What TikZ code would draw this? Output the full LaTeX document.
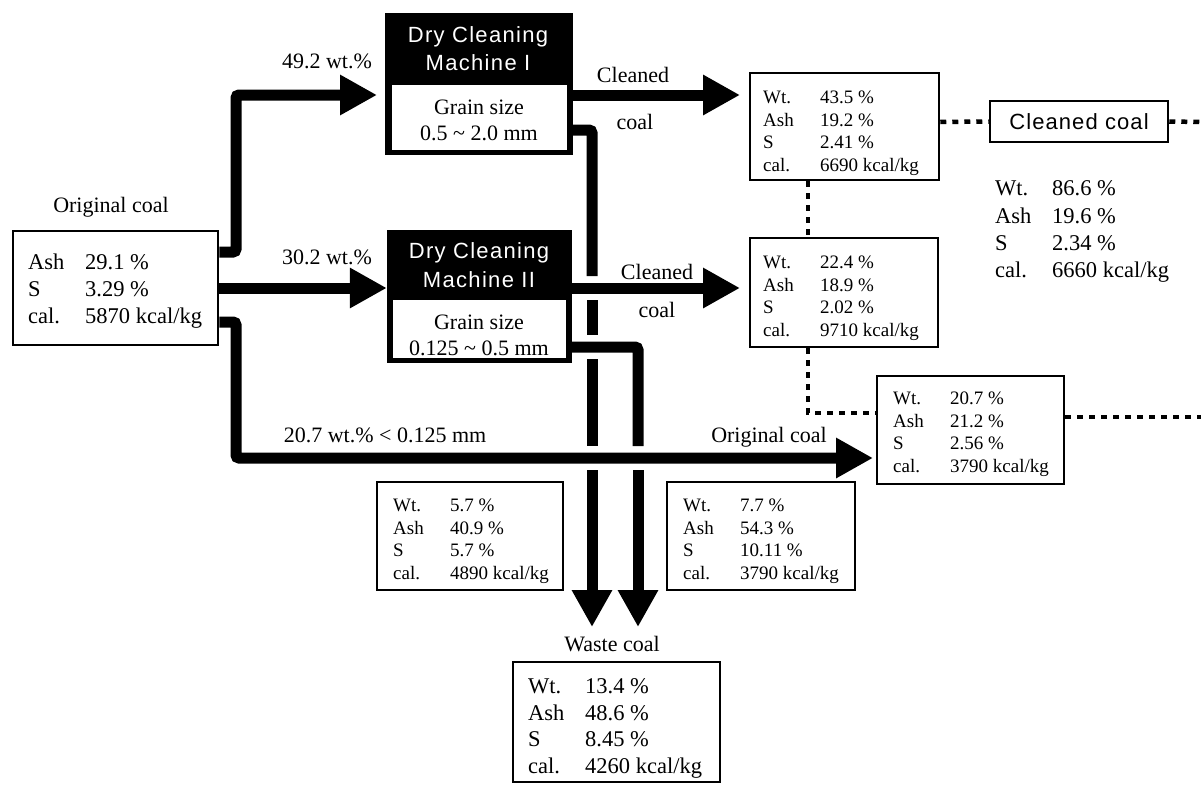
\documentclass[tikz,border=0pt]{standalone}
\usepackage{fontspec}
\setmainfont{Liberation Serif}
\newfontfamily\hsans[LetterSpace=6]{Liberation Sans}
\newfontfamily\csans[LetterSpace=5]{Liberation Sans}
\usetikzlibrary{arrows.meta}
\newcommand{\smallrows}[1]{{\fontsize{19}{22.7}\selectfont\begin{tabular}{@{}p{57pt}@{}l@{}}#1\end{tabular}}}
\newcommand{\largerows}[2]{{\fontsize{22.5}{#1}\selectfont\begin{tabular}{@{}p{57pt}@{}l@{}}#2\end{tabular}}}
\begin{document}
\begin{tikzpicture}[x=1pt,y=-1pt,
  flow/.style={line width=11pt, rounded corners=3pt},
  flowarrow/.style={flow, -{Triangle[length=37pt,width=38pt]}},
  dotline/.style={line width=4.5pt, dash pattern=on 6pt off 6pt},
  databox/.style={draw, line width=2.5pt, inner sep=0pt},
  machine/.style={fill=black, inner sep=0pt},
  grainbox/.style={fill=white, inner sep=0pt},
  rows/.style={inner sep=0pt, anchor=north west},
  lbl/.style={inner sep=0pt, font=\fontsize{22}{26}\selectfont},
  mtitle/.style={inner sep=0pt, text=white, font=\hsans\fontsize{22}{26}\selectfont}]
\useasboundingbox (0,0) rectangle (1201,784);

% ---------- Original coal ----------
\node[lbl] (origlbl) at (111,207) {Original coal};
\node[databox, minimum width=205pt, minimum height=114pt] (ob) at (115.5,288) {};
\node[rows] (obt) at (28,250.5) {\largerows{27}{Ash & 29.1 \% \\ S & 3.29 \% \\ cal. & 5870 kcal/kg}};

% ---------- Machine I ----------
\node[machine, minimum width=188pt, minimum height=142pt] (m1) at (479,84) {};
\node[grainbox, minimum width=175pt, minimum height=65pt] (m1g) at (479.5,117.5) {};
\node[mtitle] (m1a) at (478,37) {Dry Cleaning};
\node[mtitle] (m1b) at (478,63) {Machine I};
\node[lbl] (m1c) at (479,107) {Grain size};
\node[lbl] (m1d) at (479,133) {0.5 \char`\~\ 2.0 mm};

% ---------- Machine II ----------
\node[machine, minimum width=185pt, minimum height=133pt] (m2) at (479.5,296.5) {};
\node[grainbox, minimum width=173pt, minimum height=58pt] (m2g) at (479.5,329) {};
\node[mtitle] (m2a) at (479,253) {Dry Cleaning};
\node[mtitle] (m2b) at (479,280) {Machine II};
\node[lbl] (m2c) at (479,322) {Grain size};
\node[lbl] (m2d) at (479,348) {0.125 \char`\~\ 0.5 mm};

% ---------- product boxes ----------
\node[databox, minimum width=189pt, minimum height=107pt] (b1) at (844.5,126.5) {};
\node[rows] (b1t) at (763,87.4) {\smallrows{Wt. & 43.5 \% \\ Ash & 19.2 \% \\ S & 2.41 \% \\ cal. & 6690 kcal/kg}};
\node[databox, minimum width=188pt, minimum height=109pt] (b2) at (844,292.5) {};
\node[rows] (b2t) at (763,252.4) {\smallrows{Wt. & 22.4 \% \\ Ash & 18.9 \% \\ S & 2.02 \% \\ cal. & 9710 kcal/kg}};
\node[databox, minimum width=187pt, minimum height=108pt] (b3) at (970.5,430) {};
\node[rows] (b3t) at (893,388.4) {\smallrows{Wt. & 20.7 \% \\ Ash & 21.2 \% \\ S & 2.56 \% \\ cal. & 3790 kcal/kg}};
\node[databox, minimum width=186pt, minimum height=108pt] (wa) at (470,536) {};
\node[rows] (wat) at (393,495.4) {\smallrows{Wt. & 5.7 \% \\ Ash & 40.9 \% \\ S & 5.7 \% \\ cal. & 4890 kcal/kg}};
\node[databox, minimum width=188pt, minimum height=108pt] (wb) at (761,536) {};
\node[rows] (wbt) at (683,495.4) {\smallrows{Wt. & 7.7 \% \\ Ash & 54.3 \% \\ S & 10.11 \% \\ cal. & 3790 kcal/kg}};

% ---------- waste coal ----------
\node[lbl] (wlbl) at (612,644) {Waste coal};
\node[databox, minimum width=207pt, minimum height=120pt] (wbox) at (616.5,722) {};
\node[rows] (wboxt) at (528,674.5) {\largerows{26.7}{Wt. & 13.4 \% \\ Ash & 48.6 \% \\ S & 8.45 \% \\ cal. & 4260 kcal/kg}};

% ---------- cleaned coal ----------
\node[databox, minimum width=178pt, minimum height=41pt, font=\csans\fontsize{22}{26}\selectfont] (cc) at (1079,121.5) {Cleaned coal};
\node[rows] (cct) at (995,176.5) {\largerows{27.3}{Wt. & 86.6 \% \\ Ash & 19.6 \% \\ S & 2.34 \% \\ cal. & 6660 kcal/kg}};

% ---------- flow labels ----------
\node[lbl] (f1) at (327,61) {49.2 wt.\%};
\node[lbl] (f2) at (327,257) {30.2 wt.\%};
\node[lbl] (f3) at (385,435) {20.7 wt.\% < 0.125 mm};
\node[lbl] (f4) at (633,75) {Cleaned};
\node[lbl] (f5) at (635,122) {coal};
\node[lbl] (f6) at (657,272) {Cleaned};
\node[lbl] (f7) at (657,310) {coal};
\node[lbl] (f8) at (769,437) {Original coal};

% ---------- coordinates ----------
\coordinate (k1) at (236,252);
\coordinate (k2) at (236,95);
\coordinate (m1in) at (377,95);
\coordinate (k3) at (236,322);
\coordinate (k4) at (236,458);
\coordinate (b3in) at (873,458);
\coordinate (b1in) at (740,95);
\coordinate (b2in) at (740,288);
\coordinate (j1) at (592,130);
\coordinate (g1a) at (592,276); \coordinate (g1b) at (592,300);
\coordinate (g2a) at (592,335); \coordinate (g2b) at (592,359);
\coordinate (g3a) at (592,446); \coordinate (g3b) at (592,470);
\coordinate (t1) at (592,627);
\coordinate (j2) at (638,347);
\coordinate (h3a) at (638,446); \coordinate (h3b) at (638,470);
\coordinate (t2) at (638,627);
\coordinate (d1) at (808,413);
\coordinate (edge1) at (1201,122);
\coordinate (edge2) at (1201,417);

% ---------- flows ----------
\draw[flowarrow] ([yshift=36pt]ob.east) -- (k1) -- (k2) -- (m1in);
\draw[flowarrow] (ob.east) -- (ob.east -| m2.west);
\draw[flowarrow] ([yshift=-34pt]ob.east) -- (k3) -- (k4) -- (b3in);
\draw[flowarrow] ([yshift=-11pt]m1.east) -- (b1in);
\draw[flowarrow] ([yshift=8.5pt]m2.east) -- (b2in);
\draw[flow] ([yshift=-46pt]m1.east) -- (j1) -- (g1a);
\draw[flow] (g1b) -- (g2a);
\draw[flow] (g2b) -- (g3a);
\draw[flowarrow] (g3b) -- (t1);
\draw[flow] ([yshift=-50.5pt]m2.east) -- (j2) -- (h3a);
\draw[flowarrow] (h3b) -- (t2);

% ---------- dotted links ----------
\draw[dotline] ([yshift=4.5pt]b1.east) -- (cc.west);
\draw[dotline] (cc.east) -- (edge1);
\draw[dotline] ([xshift=-36.5pt]b1.south) -- ([xshift=-36pt]b2.north);
\draw[dotline] ([xshift=-36pt]b2.south) -- (d1) -- ([yshift=17pt]b3.west);
\draw[dotline] ([yshift=13pt]b3.east) -- (edge2);
\end{tikzpicture}
\end{document}
